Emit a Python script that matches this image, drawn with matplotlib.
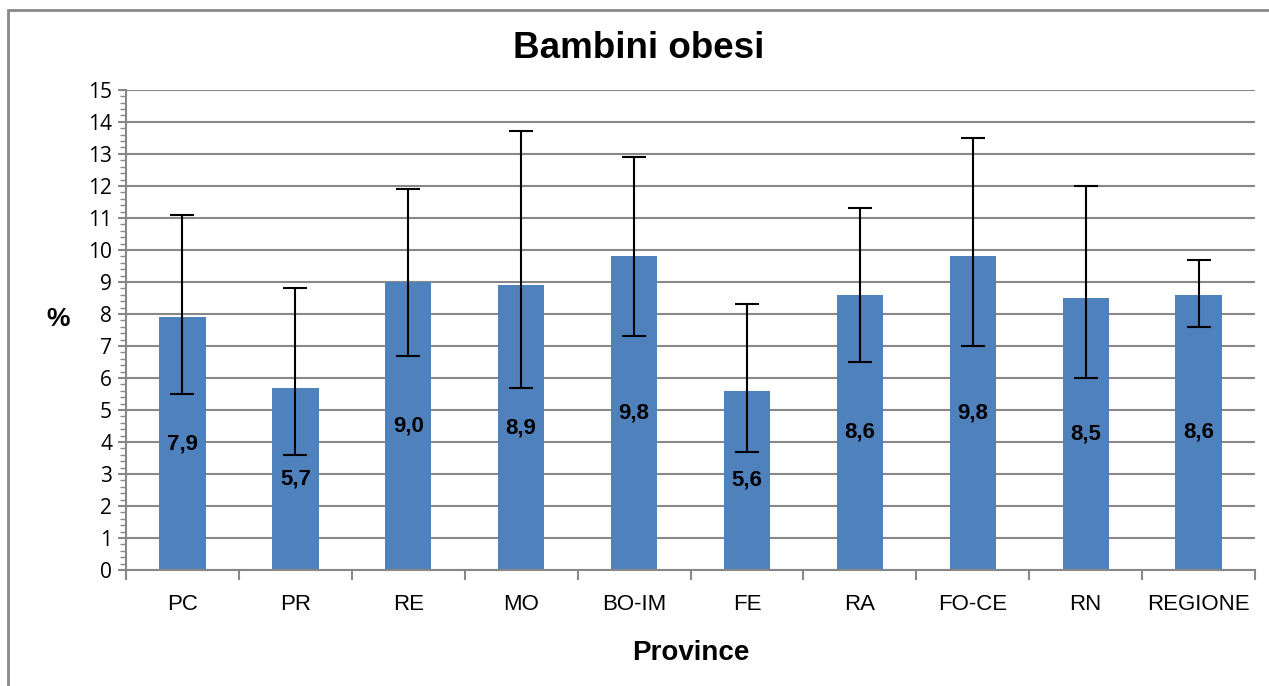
import numpy as np
import matplotlib.pyplot as plt
from matplotlib.patches import Rectangle
from matplotlib.ticker import MultipleLocator

# data
province = ['PC', 'PR', 'RE', 'MO', 'BO-IM', 'FE', 'RA', 'FO-CE', 'RN', 'REGIONE']
valori = [7.9, 5.7, 9.0, 8.9, 9.8, 5.6, 8.6, 9.8, 8.5, 8.6]
ic_inf = [5.5, 3.6, 6.7, 5.7, 7.3, 3.7, 6.5, 7.0, 6.0, 7.6]
ic_sup = [11.1, 8.8, 11.9, 13.7, 12.9, 8.3, 11.3, 13.5, 12.0, 9.7]
etichette = ['7,9', '5,7', '9,0', '8,9', '9,8', '5,6', '8,6', '9,8', '8,5', '8,6']

blu = '#4F81BD'
grigio = '#888888'

fig = plt.figure(figsize=(12.69, 6.86), dpi=100)
ax = fig.add_axes([0.0993, 0.169, 0.8897, 0.700])

x = np.arange(len(province))
ax.bar(x, valori, width=0.41, color=blu, zorder=2)

err = [np.array(valori) - np.array(ic_inf), np.array(ic_sup) - np.array(valori)]
ax.errorbar(x, valori, yerr=err, fmt='none', ecolor='black', elinewidth=1.5,
            capsize=8.5, capthick=1.5, zorder=3)

for xi, v, lab in zip(x, valori, etichette):
    ax.text(xi, v / 2, lab, ha='center', va='center', fontsize=16,
            fontweight='bold', family='Liberation Sans', zorder=4)

ax.set_xlim(-0.5, len(province) - 0.5)
ax.set_ylim(0, 15)
ax.yaxis.set_major_locator(MultipleLocator(1))
ax.yaxis.set_minor_locator(MultipleLocator(0.2))
ax.grid(axis='y', which='major', color=grigio, linewidth=1.5, zorder=0)

ax.set_xticks(x)
ax.set_xticklabels(province, fontsize=16, family='Liberation Sans')
ax.set_xticks(np.arange(-0.5, len(province)), minor=True)
ax.tick_params(axis='x', which='major', length=0, pad=17)
ax.tick_params(axis='x', which='minor', length=7, width=1.5, color=grigio)
ax.tick_params(axis='y', which='major', length=6, width=1.5, color=grigio,
               labelsize=15, pad=4)
ax.tick_params(axis='y', which='minor', length=4, width=1, color=grigio)
for t in ax.get_yticklabels():
    t.set_family('Open Sans')

for s in ['top', 'right']:
    ax.spines[s].set_visible(False)
for s in ['left', 'bottom']:
    ax.spines[s].set_color(grigio)
    ax.spines[s].set_linewidth(1.5)

ax.set_xlabel('Province', fontsize=20, fontweight='bold', family='Liberation Sans',
              labelpad=18)
fig.text(58 / 1269, 1 - 319 / 686, '%', fontsize=19, fontweight='bold',
         family='Liberation Sans', ha='center', va='center')
fig.text(639 / 1269, 1 - 48 / 686, 'Bambini obesi', fontsize=26.5, fontweight='bold',
         family='Liberation Sans', ha='center', va='center')

# chart frame
fig.patches.append(Rectangle((8 / 1269, -0.02), 1.1, 1 - 10 / 686 + 0.02,
                             transform=fig.transFigure, fill=False,
                             edgecolor=grigio, linewidth=2))

fig.savefig('out.png', dpi=100)
